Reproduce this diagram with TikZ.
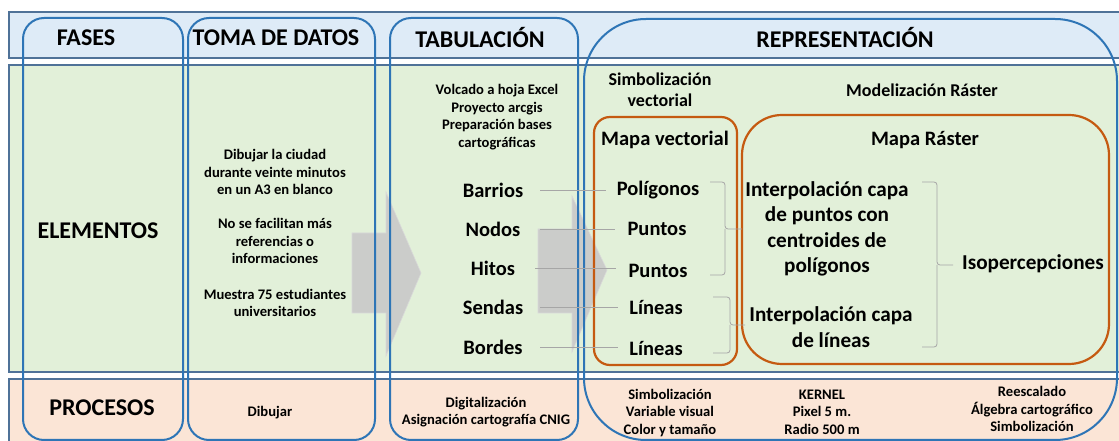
\documentclass[tikz,border=0pt]{standalone}
\usepackage{fontspec}
\setmainfont{Carlito}
\usetikzlibrary{calc}
\definecolor{bluefill}{HTML}{DEEBF7}
\definecolor{greenfill}{HTML}{E2F0D9}
\definecolor{pinkfill}{HTML}{FBE5D6}
\definecolor{bandline}{HTML}{4F7298}
\definecolor{colblue}{HTML}{2E75B6}
\definecolor{orng}{HTML}{C55A11}
\definecolor{connc}{HTML}{A6A6A6}
\definecolor{arrowc}{HTML}{C9C9C9}
\begin{document}
\begin{tikzpicture}[x=1bp,y=-1bp,
  every node/.style={inner sep=0pt, align=center},
  hdr/.style={font=\fontsize{24bp}{28bp}\selectfont\bfseries},
  small/.style={font=\fontsize{14.6bp}{17.5bp}\selectfont\bfseries},
  mid/.style={font=\fontsize{18bp}{21bp}\selectfont\bfseries},
  item/.style={font=\fontsize{20.5bp}{24bp}\selectfont\bfseries},
  big/.style={font=\fontsize{21.2bp}{25.5bp}\selectfont\bfseries},
  band/.style={draw=bandline, line width=1.3bp},
  col/.style={draw=colblue, line width=2bp, rounded corners=21bp},
  obox/.style={draw=orng, line width=2.2bp},
  conn/.style={draw=connc, line width=0.8bp},
  brk/.style={draw=connc, line width=0.8bp, rounded corners=3bp},
  blockarrow/.style={fill=arrowc, draw=arrowc!70!white, line width=0.6bp, fill opacity=0.9}
]
\useasboundingbox (0,0) rectangle (1119,441);
% bands
\fill[bluefill] (9,12) rectangle (1126,58);
\draw[band] (1126,12) -- (9,12) -- (9,58) -- (1126,58);
\fill[greenfill] (9,65) rectangle (1126,372);
\draw[band] (1126,65) -- (9,65) -- (9,372) -- (1126,372);
\fill[pinkfill] (9,379) rectangle (1126,450);
\draw[band] (1126,379) -- (9,379) -- (9,450);
% block arrows
\path[blockarrow] (352,233) -- (386,233) -- (386,192) -- (421,273) -- (386,356) -- (386,313) -- (352,313) -- cycle;
\path[blockarrow] (538,229) -- (572,229) -- (572,196) -- (607,270) -- (572,352) -- (572,313) -- (538,313) -- cycle;
% columns
\draw[col] (23,18) rectangle (183,440);
\draw[col] (188,18) rectangle (375,440);
\draw[col] (390,18) rectangle (578,440);
\draw[col, rounded corners=62bp] (584,19) rectangle (1117,440);
% orange boxes
\draw[obox, rounded corners=16bp] (594,117) rectangle (737,365);
\draw[obox, rounded corners=40bp] (742,115) rectangle (1109,364);
% headers
\node[hdr] (fases) at (86,38) {FASES};
\node[hdr] (toma) at (276,38) {TOMA DE DATOS};
\node[hdr] (tabul) at (480,38) {TABULACIÓN};
\node[hdr] (repres) at (845,38) {REPRESENTACIÓN};
\node[hdr] (elementos) at (98,231) {ELEMENTOS};
\node[hdr] (procesos) at (102,408) {PROCESOS};
% toma de datos
\node[small] (toma1) at (275,172) {Dibujar la ciudad\\durante veinte minutos\\en un A3 en blanco};
\node[small] (toma2) at (275,241) {No se facilitan más\\referencias o\\informaciones};
\node[small] (toma3) at (275,303) {Muestra 75 estudiantes\\universitarios};
\node[small] (dibujar) at (270,413) {Dibujar};
% tabulacion
\node[small] (volcado) at (497,117) {Volcado a hoja Excel\\Proyecto arcgis\\Preparación bases\\cartográficas};
\node[item] (barrios) at (493,190) {Barrios};
\node[item] (nodos) at (493,229) {Nodos};
\node[item] (hitos) at (493,268) {Hitos};
\node[item] (sendas) at (493,307) {Sendas};
\node[item] (bordes) at (493,347) {Bordes};
\node[small] (digit) at (486,412) {Digitalización\\Asignación cartografía CNIG};
% representacion
\node[mid] (simbvect) at (660,90) {Simbolización\\vectorial};
\node[mid] (modrast) at (922,90) {Modelización Ráster};
\node[item] (mapavect) at (665,140) {Mapa vectorial};
\node[item] (maparast) at (925,140) {Mapa Ráster};
\node[item] (poligonos) at (658,190) {Polígonos};
\node[item] (puntos1) at (657,229) {Puntos};
\node[item] (puntos2) at (658,271) {Puntos};
\node[item] (lineas1) at (656,308) {Líneas};
\node[item] (lineas2) at (656,348) {Líneas};
\node[big] (interp1) at (827,229) {Interpolación capa\\de puntos con\\centroides de\\polígonos};
\node[big] (interp2) at (831,327) {Interpolación capa\\de líneas};
\node[big] (isoper) at (1033,264) {Isopercepciones};
\node[small] (simb2) at (670,413) {Simbolización\\Variable visual\\Color y tamaño};
\node[small] (kernel) at (822,412) {KERNEL\\Pixel 5 m.\\Radio 500 m};
\node[small] (reesc) at (1032,409) {Reescalado\\Álgebra cartográfico\\Simbolización};
% connectors
\coordinate (lx) at (540,0);
\draw[conn, shorten >=11bp] (barrios.east -| lx) -- (barrios.east -| poligonos.west);
\draw[conn, shorten >=12bp] (nodos.east -| lx) -- (nodos.east -| puntos1.west);
\draw[conn, shorten >=12bp] ([xshift=-5bp]hitos.east -| lx) -- (hitos.east -| puntos2.west);
\draw[conn, shorten >=11bp] (sendas.east -| lx) -- (sendas.east -| lineas1.west);
\draw[conn, shorten >=11bp] (bordes.east -| lx) -- (bordes.east -| lineas2.west);
% brackets
\draw[brk] (710,182) -- (725,182) -- (725,229) -- (742,229);
\draw[brk] (725,229) -- (725,275) -- (710,275);
\draw[brk] (713,297) -- (730,297) -- (730,325) -- (745,325);
\draw[brk] (730,325) -- (730,353) -- (713,353);
\draw[brk] (922,182) -- (937,182) -- (937,265) -- (953,265);
\draw[brk] (937,265) -- (937,347) -- (922,347);
\end{tikzpicture}
\end{document}
